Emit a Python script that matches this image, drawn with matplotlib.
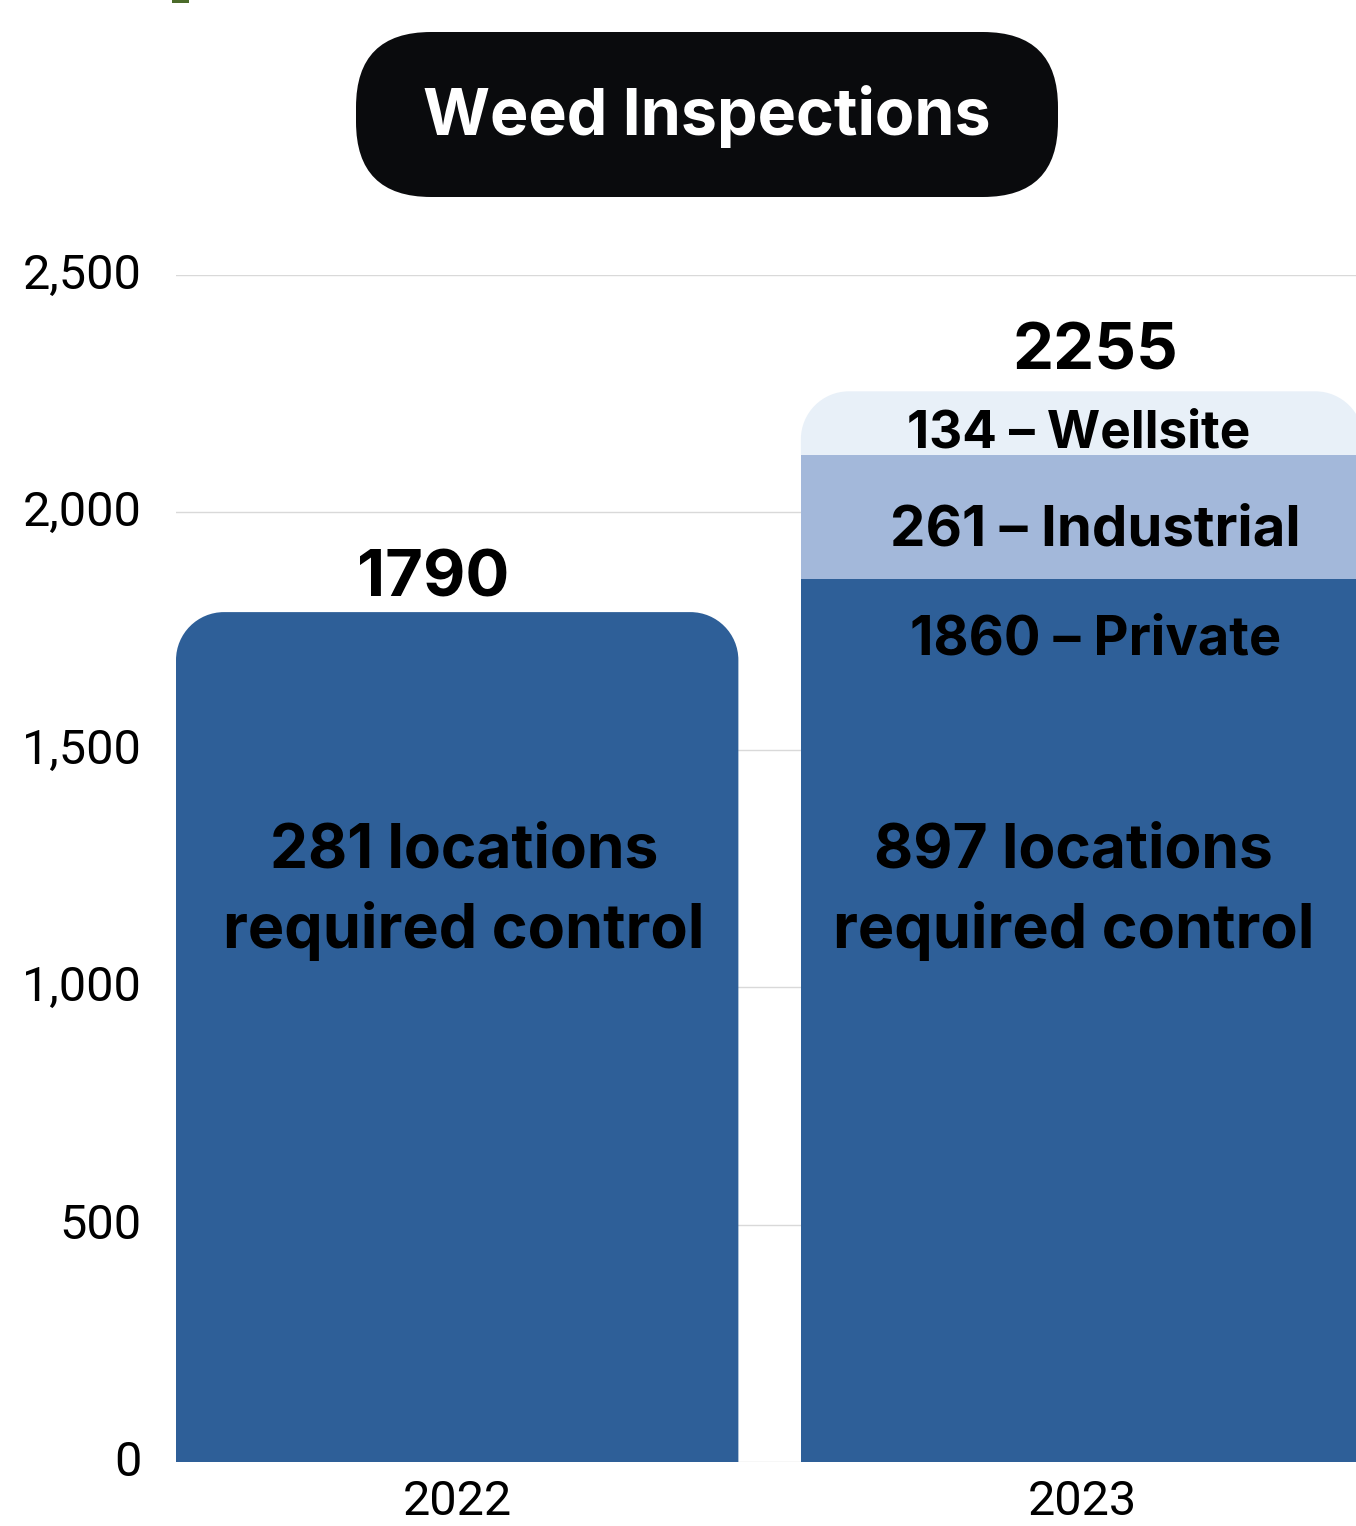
import matplotlib
matplotlib.use("Agg")
import matplotlib.pyplot as plt
import matplotlib.transforms as mtransforms
import numpy as np
from matplotlib.patches import FancyBboxPatch, PathPatch, Rectangle
from matplotlib.path import Path
from matplotlib.ticker import FuncFormatter

# data
years = ["2022", "2023"]
private = [1790, 1860]
industrial = [0, 261]
wellsite = [0, 134]
segment_names = ["Private", "Industrial", "Wellsite"]
locations = [281, 897]
y_ticks = [0, 500, 1000, 1500, 2000, 2500]

W, H = 1356, 1526
BLUE = "#2E5F98"
MID = "#A3B8DA"
PALE = "#E8F0F8"
BOLD = "Inter"
TICK = "Roboto"

fig = plt.figure(figsize=(W / 100, H / 100), dpi=100)

# small olive mark at top-left edge of the original
fig.add_artist(Rectangle((172 / W, 1 - 3 / H), 17 / W, 3 / H,
                         transform=fig.transFigure, color="#4B6B2A", lw=0))

# title pill
tax = fig.add_axes([356 / W, 1 - 197 / H, 702 / W, 165 / H])
tax.set_xlim(0, 702)
tax.set_ylim(0, 165)
tax.axis("off")
tax.add_patch(FancyBboxPatch((0, 0), 702, 165,
                             boxstyle="round,pad=0,rounding_size=75",
                             fc="#0A0B0D", ec="none"))
tax.text(351, 62, "Weed Inspections", color="white", ha="center", va="baseline",
         fontsize=46.5, fontweight="bold", family=BOLD)

ax = fig.add_axes([176 / W, (H - 1462) / H, 1180 / W, (1462 - 275) / H])
x = np.arange(len(years))
ax.set_xlim(-0.45, 1.4384)
ax.set_ylim(0, 2500)
for s in ax.spines.values():
    s.set_visible(False)
ax.set_yticks(y_ticks)
ax.yaxis.set_major_formatter(FuncFormatter(lambda v, p: f"{int(v):,}"))
ax.set_xticks(x, years)
ax.tick_params(length=0, labelsize=35)
ax.tick_params(axis="y", pad=25)
ax.tick_params(axis="x", pad=12)
for lab in ax.get_xticklabels() + ax.get_yticklabels():
    lab.set_family(TICK)
# nudge y labels up a few px, as in the original
shift = mtransforms.ScaledTranslation(0, 4 / 100, fig.dpi_scale_trans)
for lab in ax.get_yticklabels():
    lab.set_transform(lab.get_transform() + shift)
ax.grid(axis="y", color="#D9D9D9", lw=1)
ax.set_axisbelow(True)

fig.canvas.draw()
bbox = ax.get_window_extent()
rpx = 48
rx = rpx * (ax.get_xlim()[1] - ax.get_xlim()[0]) / bbox.width
ry = rpx * (ax.get_ylim()[1] - ax.get_ylim()[0]) / bbox.height


def round_top(rect):
    x0, y0 = rect.get_x(), rect.get_y()
    w, h = rect.get_width(), rect.get_height()
    x1, y1 = x0 + w, y0 + h
    k = 0.5523
    verts = [
        (x0, y0), (x0, y1 - ry),
        (x0, y1 - ry + k * ry), (x0 + rx - k * rx, y1), (x0 + rx, y1),
        (x1 - rx, y1),
        (x1 - rx + k * rx, y1), (x1, y1 - ry + k * ry), (x1, y1 - ry),
        (x1, y0), (x0, y0),
    ]
    codes = [Path.MOVETO, Path.LINETO,
             Path.CURVE4, Path.CURVE4, Path.CURVE4,
             Path.LINETO,
             Path.CURVE4, Path.CURVE4, Path.CURVE4,
             Path.LINETO, Path.CLOSEPOLY]
    patch = PathPatch(Path(verts, codes), fc=rect.get_facecolor(), ec="none", zorder=2)
    rect.remove()
    ax.add_patch(patch)


width = 0.9
stack = [private, industrial, wellsite]
colors = [BLUE, MID, PALE]
bottoms = np.zeros(len(years))
containers = []
for vals, c in zip(stack, colors):
    bc = ax.bar(x, vals, width, bottom=bottoms, color=c, lw=0, zorder=2)
    containers.append(bc)
    bottoms = bottoms + np.array(vals)
totals = bottoms

# round the top-most segment of each bar
for i in range(len(years)):
    top = max(j for j in range(len(stack)) if stack[j][i] > 0)
    round_top(containers[top][i])

txt = dict(ha="center", va="baseline", fontweight="bold", family=BOLD, color="black")
ax.text(x[0] - 0.038, totals[0] + 32, f"{int(totals[0])}", fontsize=47, **txt)
ax.text(x[1] + 0.022, totals[1] + 45, f"{int(totals[1])}", fontsize=47, **txt)

# segment labels on the 2023 bar
ax.text(x[1] - 0.005, private[1] + industrial[1] + 15,
        f"{wellsite[1]} \u2013 {segment_names[2]}", fontsize=37, **txt)
ax.text(x[1] + 0.022, private[1] + 71,
        f"{industrial[1]} \u2013 {segment_names[1]}", fontsize=40.5, **txt)
ax.text(x[1] + 0.022, private[1] - 160,
        f"{private[1]} \u2013 {segment_names[0]}", fontsize=39, **txt)

for i, off in zip(range(len(years)), [0.011, -0.014]):
    ax.text(x[i] + off, 1253, f"{locations[i]} locations", fontsize=43.5, **txt)
    ax.text(x[i] + off, 1083, "required control", fontsize=44, **txt)

fig.savefig("out.png", dpi=100)
